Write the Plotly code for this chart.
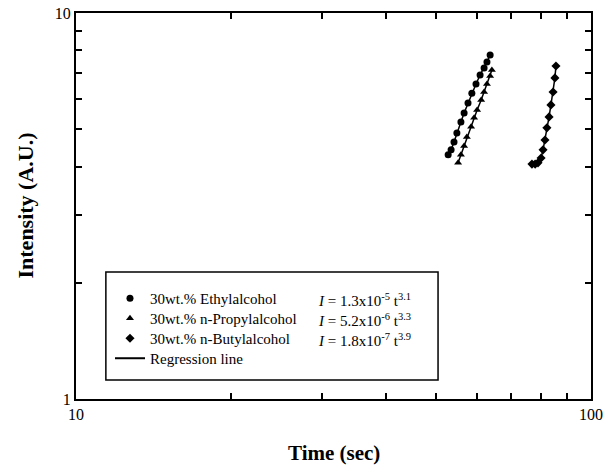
import plotly.graph_objects as go

# ---- data ----
ethyl_t = [52.8, 53.5, 54.2, 54.9, 55.9, 56.7, 57.7, 58.7, 59.8, 60.9, 62.0, 62.8, 63.7]
ethyl_i = [4.29, 4.42, 4.63, 4.89, 5.22, 5.51, 5.85, 6.20, 6.55, 6.91, 7.20, 7.47, 7.78]

propyl_t = [55.2, 55.9, 56.7, 57.4, 58.5, 59.3, 60.1, 61.2, 62.0, 62.8, 63.7, 64.2]
propyl_i = [4.09, 4.29, 4.52, 4.77, 5.07, 5.35, 5.61, 5.95, 6.24, 6.55, 6.87, 7.12]

butyl_t = [76.8, 77.9, 78.9, 80.0, 80.7, 81.4, 82.1, 82.9, 83.6, 84.4, 85.1, 85.5]
butyl_i = [4.06, 4.06, 4.09, 4.21, 4.42, 4.69, 5.04, 5.38, 5.78, 6.24, 6.79, 7.29]

series_names = ["30wt.% Ethylalcohol", "30wt.% n-Propylalcohol", "30wt.% n-Butylalcohol"]
formulas = [
    "<i>I</i> = 1.3x10<sup>-5</sup> t<sup>3.1</sup>",
    "<i>I</i> = 5.2x10<sup>-6</sup> t<sup>3.3</sup>",
    "<i>I</i> = 1.8x10<sup>-7</sup> t<sup>3.9</sup>",
]
symbols = ["circle", "triangle-up", "diamond"]

x_major = [10, 100]
x_minor = [20, 30, 40, 50, 60, 70, 80, 90]
y_major = [1, 10]
y_minor = [2, 3, 4, 5, 6, 7, 8, 9]

x_title = "Time (sec)"
y_title = "Intensity (A.U.)"

FONT = "Liberation Serif"

fig = go.Figure()

data = [(ethyl_t, ethyl_i), (propyl_t, propyl_i), (butyl_t, butyl_i)]
for (t, i), sym in zip(data, symbols):
    fig.add_trace(go.Scatter(
        x=t, y=i, mode="lines+markers",
        line=dict(color="black", width=1.5),
        marker=dict(symbol=sym, size=7, color="black"),
        showlegend=False,
    ))

# legend-only entries, one legend per row for precise spacing
legend_ids = ["legend", "legend2", "legend3", "legend4"]
for name, sym, lid in zip(series_names, symbols, legend_ids):
    fig.add_trace(go.Scatter(
        x=[None], y=[None], mode="markers", name=name, legend=lid,
        marker=dict(symbol=sym, size=7, color="black"),
    ))
fig.add_trace(go.Scatter(
    x=[None], y=[None], mode="lines", name="Regression line", legend="legend4",
    line=dict(color="black", width=2),
))

# legend box
fig.add_shape(type="rect", xref="paper", yref="paper",
              x0=0.058, x1=0.703, y0=0.049, y1=0.329,
              line=dict(color="black", width=1.5), fillcolor="white", layer="below")

formula_y = [0.2563, 0.2045, 0.1527]
for f, yy in zip(formulas, formula_y):
    fig.add_annotation(text=f, xref="paper", yref="paper", x=0.466, y=yy,
                       xanchor="left", yanchor="middle", showarrow=False,
                       font=dict(family=FONT, size=15, color="black"))

# axis titles
fig.add_annotation(text="<b>%s</b>" % x_title, xref="paper", yref="paper",
                   x=0.5, y=-0.14, xanchor="center", yanchor="middle", showarrow=False,
                   font=dict(family=FONT, size=21, color="black"))
fig.add_annotation(text="<b>%s</b>" % y_title, xref="paper", yref="paper",
                   x=-0.10, y=0.5, xanchor="center", yanchor="middle", showarrow=False,
                   textangle=-90, font=dict(family=FONT, size=22, color="black"))

axis_common = dict(
    showline=True, linecolor="black", linewidth=2, mirror="ticks",
    ticks="inside", ticklen=6, tickwidth=1.5, tickcolor="black",
    showgrid=False, zeroline=False, automargin=False,
    ticklabeloverflow="allow",
    tickfont=dict(family=FONT, size=16, color="black"),
)

fig.update_xaxes(type="log", range=[1, 2], tickmode="array", tickvals=x_major,
                 minor=dict(tickmode="array", tickvals=x_minor, ticks="inside",
                            ticklen=6, tickwidth=1.5, tickcolor="black", showgrid=False),
                 **axis_common)
fig.update_yaxes(type="log", range=[0, 1], tickmode="array", tickvals=y_major,
                 minor=dict(tickmode="array", tickvals=y_minor, ticks="inside",
                            ticklen=6, tickwidth=1.5, tickcolor="black", showgrid=False),
                 **axis_common)

legend_top = [0.3031, 0.2513, 0.1995, 0.1477]
legend_style = dict(x=0.066, xanchor="left", yanchor="top",
                    bgcolor="rgba(0,0,0,0)", borderwidth=0,
                    font=dict(family=FONT, size=15, color="black"),
                    tracegroupgap=0, itemwidth=30)

fig.update_layout(
    width=615, height=469,
    margin=dict(l=76, r=24, t=13, b=70),
    paper_bgcolor="white", plot_bgcolor="white",
    font=dict(family=FONT, size=15, color="black"),
    legend=dict(y=legend_top[0], **legend_style),
    legend2=dict(y=legend_top[1], **legend_style),
    legend3=dict(y=legend_top[2], **legend_style),
    legend4=dict(y=legend_top[3], **legend_style),
)

fig.write_html("out.html", config={"displayModeBar": False},
               post_script="document.body.style.margin='0px';")
